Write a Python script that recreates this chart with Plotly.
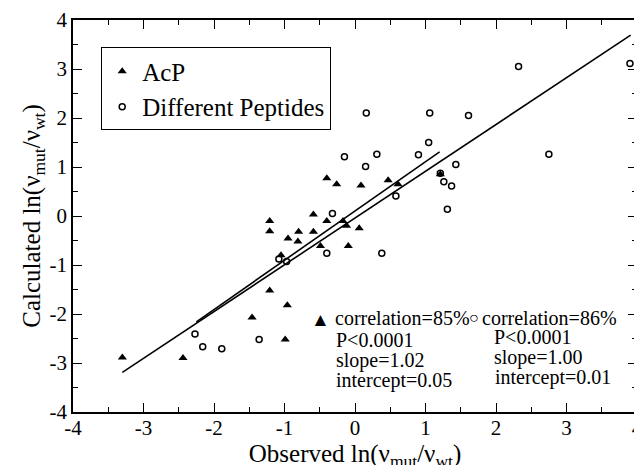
import plotly.graph_objects as go

# AcP mutants (filled triangles)
acp_obs = [-1.21, -1.21, -0.59, -0.40, -0.80, -0.59, -0.95, -0.81, -0.49, -1.05,
           -0.17, -0.12, 0.06, -0.095, -1.21, -0.96, -1.46, -0.99, -3.30, -2.44,
           -0.40, -0.26, 0.085, 0.47, 0.61, 1.21]
acp_calc = [-0.10, -0.31, 0.03, -0.10, -0.32, -0.32, -0.46, -0.52, -0.61, -0.80,
            -0.10, -0.20, -0.25, -0.61, -1.52, -1.82, -2.07, -2.52, -2.89, -2.90,
            0.77, 0.65, 0.62, 0.73, 0.65, 0.85]

# different peptides (open circles)
pep_obs = [2.32, 3.90, 0.16, 1.06, 1.61, 1.045, -0.15, 0.31, 0.90, 0.15,
           2.75, 1.43, 1.21, 1.26, 1.37, 0.58, 1.31, -0.32, -0.40, 0.38,
           -1.08, -0.97, -2.27, -2.16, -1.89, -1.36]
pep_calc = [3.05, 3.11, 2.10, 2.10, 2.05, 1.50, 1.21, 1.26, 1.25, 1.01,
            1.26, 1.05, 0.87, 0.70, 0.61, 0.41, 0.14, 0.05, -0.76, -0.76,
            -0.88, -0.93, -2.41, -2.67, -2.71, -2.52]

# regression lines (end points)
fit_acp_x = [-2.25, 1.20]
fit_acp_y = [-2.16, 1.31]
fit_pep_x = [-3.30, 3.91]
fit_pep_y = [-3.19, 3.69]

tick_vals = [-4, -3, -2, -1, 0, 1, 2, 3, 4]
tick_text = ["-4", "-3", "-2", "-1", "0", "1", "2", "3", "4"]

serif = "Liberation Serif, Times New Roman, serif"

fig = go.Figure()
fig.add_trace(go.Scatter(x=fit_acp_x, y=fit_acp_y, mode="lines",
                         line=dict(color="black", width=1.6), showlegend=False))
fig.add_trace(go.Scatter(x=fit_pep_x, y=fit_pep_y, mode="lines",
                         line=dict(color="black", width=1.6), showlegend=False))
fig.add_trace(go.Scatter(x=acp_obs, y=acp_calc, mode="markers", name="AcP",
                         marker=dict(symbol="triangle-up", size=8, color="black")))
fig.add_trace(go.Scatter(x=pep_obs, y=pep_calc, mode="markers", name="Different Peptides",
                         marker=dict(symbol="circle-open", size=6, color="black",
                                     line=dict(width=1.5, color="black"))))

ann_font = dict(family=serif, size=20, color="black")
left_block = [("correlation=85%", -0.31, -2.08), ("P<0.0001", -0.30, -2.53),
              ("slope=1.02", -0.30, -2.94), ("intercept=0.05", -0.30, -3.35)]
right_block = [("correlation=86%", 1.77, -2.08), ("P<0.0001", 1.94, -2.47),
               ("slope=1.00", 1.94, -2.88), ("intercept=0.01", 1.96, -3.29)]
for txt, ax, ay in left_block + right_block:
    fig.add_annotation(x=ax, y=ay, text=txt, showarrow=False, xanchor="left",
                       yanchor="middle", font=ann_font)
fig.add_annotation(x=-0.49, y=-2.12, text="▲", showarrow=False, font=dict(size=19, color="black"))
fig.add_annotation(x=1.69, y=-2.08, text="○", showarrow=False, font=dict(size=16, color="black"))

axis_common = dict(range=[-4, 4], tickvals=tick_vals, ticktext=tick_text,
                   ticks="inside", ticklen=9, tickwidth=1.3, tickcolor="black",
                   minor=dict(ticks="inside", ticklen=5, dtick=0.5, tickwidth=1.2, tickcolor="black"),
                   showline=True, linecolor="black", linewidth=1.5, mirror="ticks",
                   showgrid=False, zeroline=False, automargin=False,
                   tickfont=dict(family=serif, size=21, color="black"))

fig.update_xaxes(**axis_common, ticklabelstandoff=-4,
                 title=dict(text="Observed ln(ν<sub>mut</sub>/ν<sub>wt</sub>)",
                            font=dict(family=serif, size=25, color="black"), standoff=0))
fig.update_yaxes(**axis_common,
                 title=dict(text="Calculated ln(ν<sub>mut</sub>/ν<sub>wt</sub>)",
                            font=dict(family=serif, size=25, color="black"), standoff=2))

# the page body adds an 8px offset, so margins are shifted to compensate
fig.update_layout(
    width=642, height=465,
    margin=dict(l=65, r=13, t=12, b=61),
    plot_bgcolor="white", paper_bgcolor="white",
    font=dict(family=serif, color="black"),
    legend=dict(x=0.05, y=0.93, xanchor="left", yanchor="top",
                bordercolor="black", borderwidth=1, bgcolor="white",
                font=dict(family=serif, size=25, color="black"),
                tracegroupgap=0, itemwidth=30),
)

fig.write_html("out.html")
